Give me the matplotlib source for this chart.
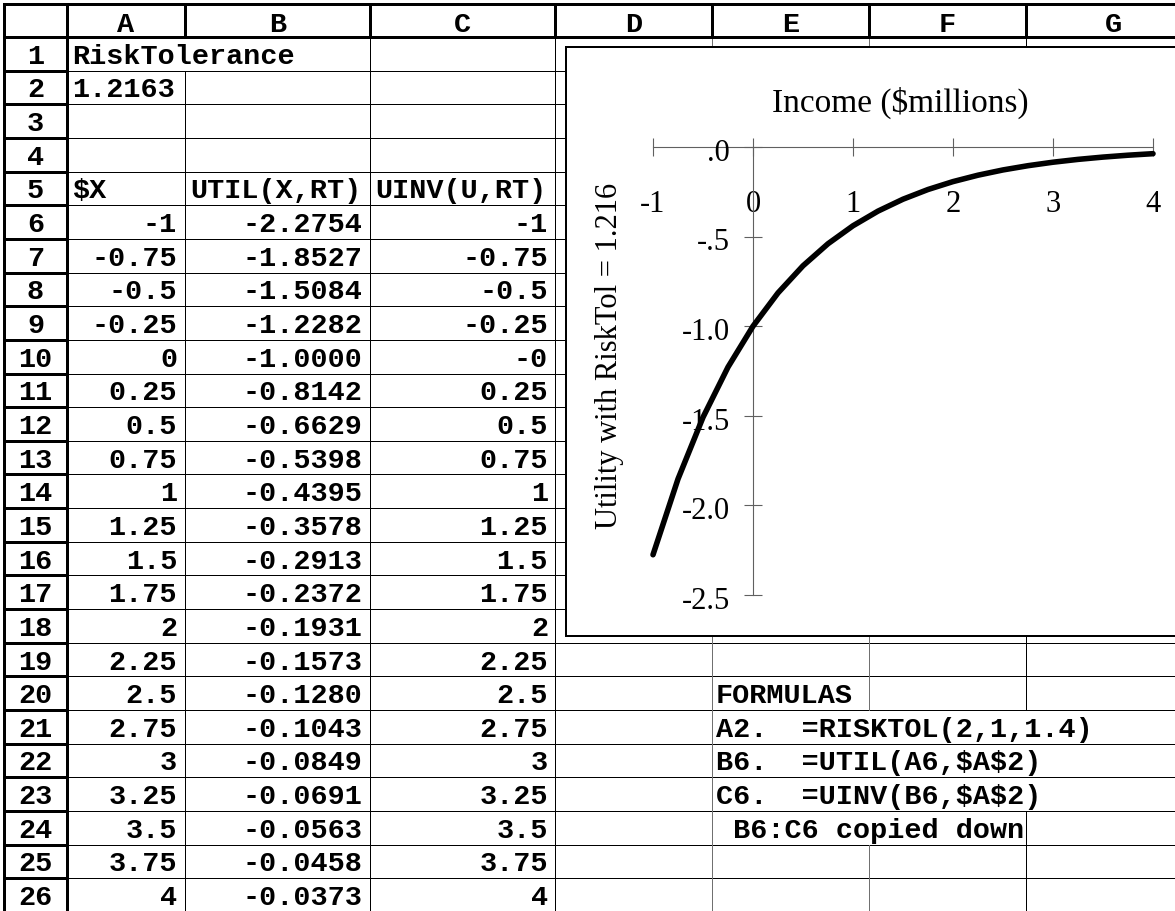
import numpy as np
import matplotlib.pyplot as plt
from matplotlib.patches import Rectangle

# worksheet contents
col_letters = ['A', 'B', 'C', 'D', 'E', 'F', 'G']
risk_tol = '1.2163'
x_vals = [-1, -0.75, -0.5, -0.25, 0, 0.25, 0.5, 0.75, 1, 1.25, 1.5,
          1.75, 2, 2.25, 2.5, 2.75, 3, 3.25, 3.5, 3.75, 4]
util_vals = [-2.2754, -1.8527, -1.5084, -1.2282, -1.0000, -0.8142, -0.6629,
             -0.5398, -0.4395, -0.3578, -0.2913, -0.2372, -0.1931, -0.1573,
             -0.1280, -0.1043, -0.0849, -0.0691, -0.0563, -0.0458, -0.0373]
uinv_vals = [-1, -0.75, -0.5, -0.25, -0.0, 0.25, 0.5, 0.75, 1, 1.25, 1.5,
             1.75, 2, 2.25, 2.5, 2.75, 3, 3.25, 3.5, 3.75, 4]
formula_lines = ['FORMULAS', 'A2.  =RISKTOL(2,1,1.4)', 'B6.  =UTIL(A6,$A$2)',
                 'C6.  =UINV(B6,$A$2)', ' B6:C6 copied down']

# chart text
chart_title = 'Income ($millions)'
chart_ylabel = 'Utility with RiskTol = 1.216'
xticks = [-1, 0, 1, 2, 3, 4]
xtick_labels = ['-1', '0', '1', '2', '3', '4']
yticks = [0, -0.5, -1.0, -1.5, -2.0, -2.5]
ytick_labels = ['.0', '-.5', '-1.0', '-1.5', '-2.0', '-2.5']

W, H = 1175, 911
PX = 0.72  # one pixel in points at 100 dpi

fig = plt.figure(figsize=(W / 100, H / 100), dpi=100)
sheet = fig.add_axes([0, 0, 1, 1])
sheet.set_xlim(0, W)
sheet.set_ylim(H, 0)
sheet.axis('off')

col_x = [4, 67, 185, 370, 555, 712, 869, 1026, 1200]
top, head_bot, row_h = 4, 37, 33.65
row_y = [head_bot + i * row_h for i in range(27)]

mono = dict(family='Liberation Mono', weight='bold', fontsize=20.5,
            va='center_baseline', parse_math=False)


def row_mid(r):
    return (row_y[r - 1] + row_y[r]) / 2


# cell borders hidden by text spilling into the next cell: (row, border x)
hidden = {(1, 185)}
for r in (21, 22, 23, 24):
    hidden.add((r, 869))
for r in (21, 22, 23):
    hidden.add((r, 1026))

# thin grid
for r in range(1, 27):
    sheet.plot([67, W], [row_y[r], row_y[r]], color='black', lw=1 * PX)
for cx in col_x[2:8]:
    for r in range(1, 27):
        if (r, cx) in hidden:
            continue
        c = '#707070' if cx in (712, 869) else 'black'
        sheet.plot([cx, cx], [row_y[r - 1], row_y[r]], color=c, lw=1 * PX)

# thick header borders
thick = 3 * PX
sheet.plot([top, W], [top, top], color='black', lw=thick)
sheet.plot([top, W], [head_bot, head_bot], color='black', lw=thick)
for cx in col_x[:8]:
    sheet.plot([cx, cx], [top, head_bot], color='black', lw=thick)
for cx in (4, 67):
    sheet.plot([cx, cx], [top, H], color='black', lw=thick)
for r in range(1, 27):
    sheet.plot([4, 67], [row_y[r], row_y[r]], color='black', lw=thick)

# column and row headers
for i, letter in enumerate(col_letters):
    sheet.text((col_x[i + 1] + col_x[i + 2]) / 2, (top + head_bot) / 2 + 1,
               letter, ha='center', **mono)
for r in range(1, 27):
    sheet.text(35.5, row_mid(r), str(r), ha='center', **mono)

# cell values
sheet.text(72, row_mid(1), 'RiskTolerance', ha='left', **mono)
sheet.text(72, row_mid(2), risk_tol, ha='left', **mono)
sheet.text(72, row_mid(5), '$X', ha='left', **mono)
sheet.text(190, row_mid(5), 'UTIL(X,RT)', ha='left', **mono)
sheet.text(375, row_mid(5), 'UINV(U,RT)', ha='left', **mono)
for i in range(len(x_vals)):
    r = 6 + i
    sheet.text(177, row_mid(r), f'{x_vals[i]:g}', ha='right', **mono)
    sheet.text(362, row_mid(r), f'{util_vals[i]:.4f}', ha='right', **mono)
    sheet.text(548, row_mid(r), f'{uinv_vals[i]:g}', ha='right', **mono)
for i, line in enumerate(formula_lines):
    sheet.text(716, row_mid(20 + i), line, ha='left', **mono)

# embedded chart box
sheet.add_patch(Rectangle((566, 47), 700, 589, facecolor='white',
                          edgecolor='black', lw=2 * PX, zorder=5))

serif = 'Liberation Serif'
sheet.text(900, 103, chart_title, ha='center', va='center', fontsize=24,
           family=serif, parse_math=False, zorder=6)
sheet.text(609, 356, chart_ylabel, ha='center', va='center', fontsize=22,
           family=serif, rotation=90, zorder=6)

# utility curve
ax = fig.add_axes([653 / W, 1 - 595 / H, 500 / W, 448 / H])
ax.patch.set_visible(False)
ax.set_xlim(-1, 4)
ax.set_ylim(-2.5, 0)
ax.plot(x_vals, util_vals, color='black', lw=4, solid_capstyle='round',
        solid_joinstyle='round', clip_on=False, zorder=3)

for side in ('top', 'right'):
    ax.spines[side].set_visible(False)
for side in ('bottom', 'left'):
    ax.spines[side].set_position(('data', 0))
    ax.spines[side].set_color('#606060')
    ax.spines[side].set_linewidth(0.8)
ax.tick_params(direction='inout', length=13.5, width=0.8, color='#606060')
ax.set_xticks(xticks, labels=xtick_labels)
ax.tick_params(axis='x', pad=24, labelsize=22, labelfontfamily=serif)
ax.set_yticks(yticks, labels=[''] * len(yticks))
for v, lbl in zip(yticks, ytick_labels):
    ax.annotate(lbl, (0, v), xytext=(-16.5, -4.5), textcoords='offset points',
                ha='right', va='center', fontsize=22, family=serif)

fig.savefig('out.png', dpi=100)
